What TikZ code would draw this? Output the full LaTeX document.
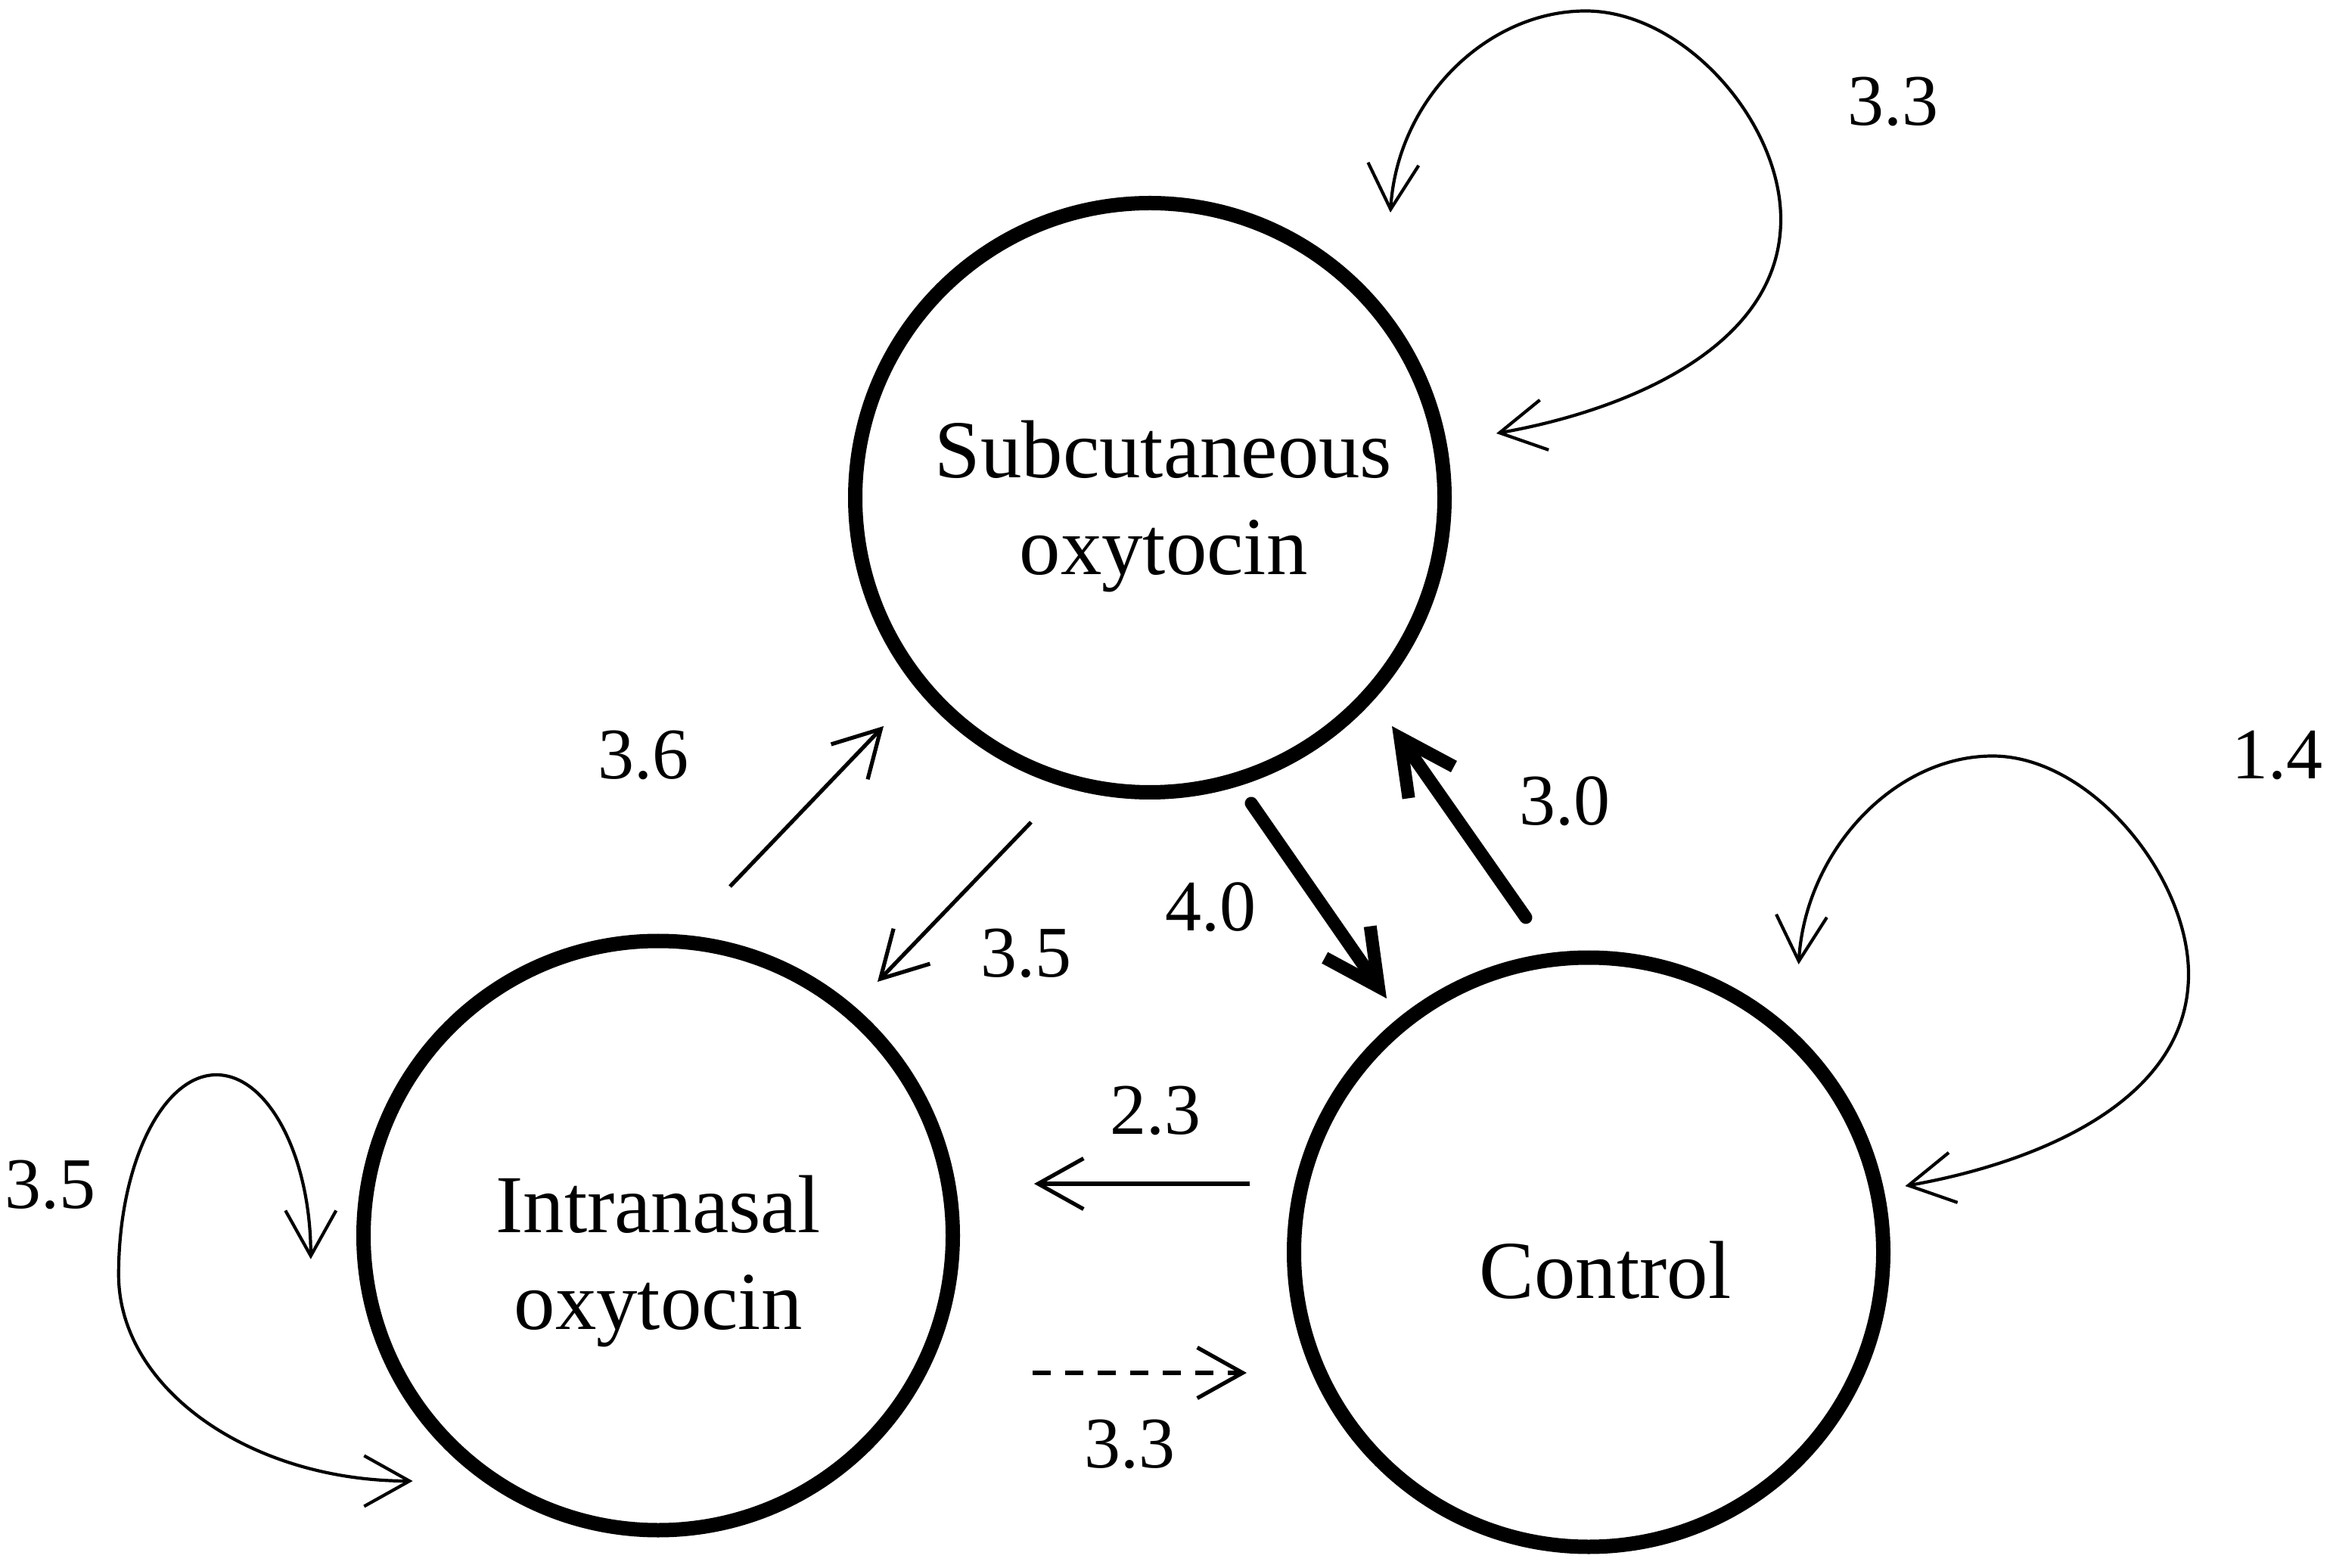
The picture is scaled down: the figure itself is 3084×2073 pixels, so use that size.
\documentclass[tikz,border=0pt]{standalone}
\usepackage{fontspec}
\setmainfont{Liberation Serif}
\usetikzlibrary{arrows.meta}
\begin{document}
\begin{tikzpicture}[x=0.25pt,y=-0.25pt,
  state/.style={circle,draw,line width=4.75pt,minimum size=194.75pt,inner sep=0pt},
  stext/.style={align=center,inner sep=0pt,font=\fontsize{27.2pt}{32pt}\selectfont,anchor=base},
  num/.style={inner sep=0pt,font=\fontsize{24pt}{28pt}\selectfont},
  thinarr/.style={line width=1.3pt,-{Straight Barb[length=15pt,width=16.75pt]}},
  thickarr/.style={line width=4.25pt,line cap=round,-{Straight Barb[length=18pt,width=18.25pt]}},
  looparr/.style={line width=1.05pt,{Straight Barb[length=15pt,width=16.75pt]}-{Straight Barb[length=15pt,width=16.75pt]}},
]
\useasboundingbox (0,0) rectangle (3084,2073);

% states
\node[state] (sub) at (1520,658) {};
\node[state] (intra) at (870,1633.5) {};
\node[state] (ctrl) at (2100,1655.5) {};
\node[stext] (subt) at (1538,759.5) {Subcutaneous\\oxytocin};
\node[stext] (intrat) at (870,1757) {Intranasal\\oxytocin};
\node[stext] (ctrlt) at (2122,1716.6) {Control};

% connector end points
\coordinate (e36s) at (965,1172);  \coordinate (e36t) at (1168,960);
\coordinate (e35s) at (1363,1087); \coordinate (e35t) at (1160,1298);
\coordinate (e40s) at (1654,1062); \coordinate (e40t) at (1833,1320);
\coordinate (e30s) at (2017,1213); \coordinate (e30t) at (1840,960);
\coordinate (e23s) at (1652,1565); \coordinate (e23t) at (1367,1565);
\coordinate (e33s) at (1365,1815); \coordinate (e33t) at (1648,1815);

\coordinate (l33a) at (1978,573);   \coordinate (l33r) at (2354,290);
\coordinate (l33t) at (2096,14.5);  \coordinate (l33b) at (1838,281);
\coordinate (l14a) at (2518.5,1568); \coordinate (l14r) at (2893,1288);
\coordinate (l14t) at (2634,999.5);  \coordinate (l14b) at (2377.6,1275);
\coordinate (l35b) at (545.6,1958); \coordinate (l35l) at (156.8,1685);
\coordinate (l35t) at (286,1421);   \coordinate (l35a) at (410.8,1664.7);

% straight connectors
\draw[thinarr] (e36s) -- (e36t);
\draw[thinarr] (e35s) -- (e35t);
\draw[thickarr] (e40s) -- (e40t);
\draw[thickarr] (e30s) -- (e30t);
\draw[thinarr] (e23s) -- (e23t);
\draw[thinarr,dash pattern=on 6pt off 4.75pt] (e33s) -- (e33t);

% self loops
\draw[looparr] (l33a) .. controls +(170,-30) and +(0,170) .. (l33r)
  .. controls +(0,-130) and +(129,0) .. (l33t)
  .. controls +(-130,0) and +(9,-150) .. (l33b);
\draw[looparr] (l14a) .. controls +(170,-30) and +(0,170) .. (l14r)
  .. controls +(0,-130) and +(129,0) .. (l14t)
  .. controls +(-130,0) and +(9,-150) .. (l14b);
\draw[looparr] (l35b) .. controls +(-214.6,0) and +(0,151) .. (l35l)
  .. controls +(0,-146) and +(-71,0) .. (l35t)
  .. controls +(69,0) and +(0,-135) .. (l35a);

% labels
\node[num] (n33a) at (2502,134) {3.3};
\node[num] (n14) at (3010,998) {1.4};
\node[num] (n35a) at (67,1566) {3.5};
\node[num] (n36) at (850,998) {3.6};
\node[num] (n35b) at (1356,1260) {3.5};
\node[num] (n40) at (1600,1199) {4.0};
\node[num] (n30) at (2068,1059) {3.0};
\node[num] (n23) at (1527,1468) {2.3};
\node[num] (n33b) at (1493,1909) {3.3};
\end{tikzpicture}
\end{document}
